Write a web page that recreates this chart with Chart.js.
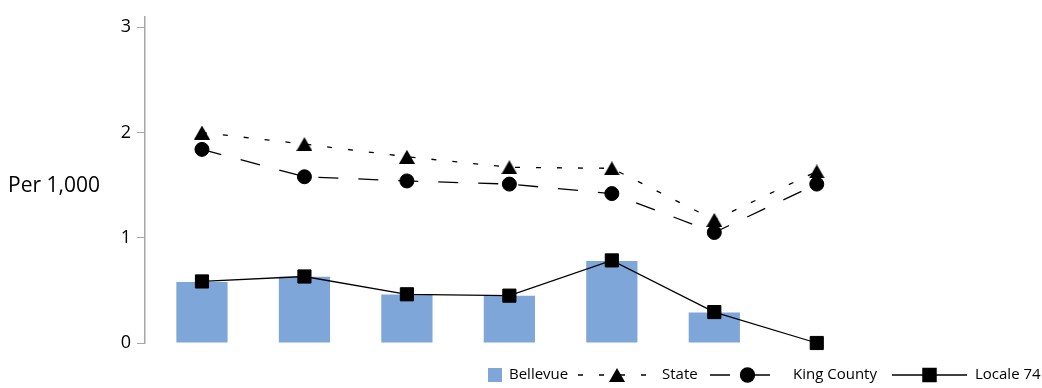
<!DOCTYPE html>
<html>
<head>
<meta charset="utf-8">
<script src="https://cdn.jsdelivr.net/npm/chart.js@4/dist/chart.umd.min.js"></script>
<style>
html, body { margin: 0; padding: 0; background: #fff; }
#wrap { width: 1042px; height: 388px; }
</style>
</head>
<body>
<div id="wrap"><canvas id="chart"></canvas></div>
<script>
// categories are not labelled in the source chart
var categories = ['1', '2', '3', '4', '5', '6', '7'];
var bellevue = [0.58, 0.63, 0.46, 0.45, 0.78, 0.29, null];
var state = [2.00, 1.89, 1.77, 1.67, 1.66, 1.17, 1.63];
var kingCounty = [1.84, 1.58, 1.54, 1.51, 1.42, 1.05, 1.51];
var locale74 = [0.585, 0.632, 0.463, 0.45, 0.785, 0.294, 0];
var yTicks = [0, 1, 2, 3];
var yTitle = 'Per 1,000';

var FONT = '"Open Sans", sans-serif';
var barColor = '#7ea6d8';

// triangle marker centred on its box (Chart.js' own triangle sits on its centroid)
function makeTriangle(w, h) {
    var c = document.createElement('canvas');
    c.width = w;
    c.height = h;
    var g = c.getContext('2d');
    g.fillStyle = '#000';
    g.beginPath();
    g.moveTo(w / 2, 0);
    g.lineTo(w, h);
    g.lineTo(0, h);
    g.closePath();
    g.fill();
    return c;
}
var triangle = makeTriangle(16, 14);

function points(values) {
    return values.map(function (v, i) {
        return { x: i, y: v };
    });
}

// legend drawn by hand so the samples show line + marker like the original
var legendItems = [
    { text: 509, box: 488 },
    { text: 662, from: 578, to: 656 },
    { text: 793, from: 710, to: 785 },
    { text: 975, from: 892, to: 967 }
];

var extras = {
    id: 'extras',
    afterDraw: function (chart) {
        var ctx = chart.ctx;
        var y = 375;
        ctx.save();
        ctx.textBaseline = 'middle';
        ctx.fillStyle = '#000';
        ctx.font = '21px ' + FONT;
        ctx.fillText(yTitle, 8, 186);

        ctx.font = '15px ' + FONT;
        chart.data.datasets.forEach(function (ds, i) {
            var it = legendItems[i];
            if (ds.type === 'bar') {
                ctx.fillStyle = ds.backgroundColor;
                ctx.fillRect(it.box, 368, 14, 14);
            } else {
                ctx.strokeStyle = '#000';
                ctx.lineWidth = ds.borderWidth;
                ctx.setLineDash(ds.borderDash || []);
                ctx.beginPath();
                ctx.moveTo(it.from, y);
                ctx.lineTo(it.to, y);
                ctx.stroke();
                ctx.setLineDash([]);
                var mid = (it.from + it.to) / 2;
                ctx.fillStyle = '#000';
                Chart.helpers.drawPoint(ctx, {
                    pointStyle: ds.pointStyle,
                    radius: ds.pointRadius,
                    rotation: 0,
                    borderWidth: ds.pointBorderWidth
                }, mid, y);
            }
            ctx.fillStyle = '#000';
            ctx.fillText(ds.label, it.text, y);
        });
        ctx.restore();
    }
};

var chart = new Chart(document.getElementById('chart'), {
    data: {
        datasets: [{
            type: 'bar',
            label: 'Bellevue',
            data: points(bellevue),
            backgroundColor: barColor,
            barPercentage: 0.5,
            categoryPercentage: 1,
            order: 10
        }, {
            type: 'line',
            label: 'State',
            data: points(state),
            borderColor: '#000',
            borderWidth: 1.3,
            borderDash: [5, 16],
            pointStyle: triangle,
            pointRadius: 8,
            pointBorderWidth: 0,
            clip: false,
            order: 1
        }, {
            type: 'line',
            label: 'King County',
            data: points(kingCounty),
            borderColor: '#000',
            borderWidth: 1.3,
            borderDash: [20, 20],
            pointStyle: 'circle',
            pointRadius: 7,
            pointBackgroundColor: '#000',
            pointBorderColor: '#000',
            pointBorderWidth: 1,
            clip: false,
            order: 1
        }, {
            type: 'line',
            label: 'Locale 74',
            data: points(locale74),
            borderColor: '#000',
            borderWidth: 1.3,
            pointStyle: 'rect',
            pointRadius: 9.3,
            pointBackgroundColor: '#000',
            pointBorderColor: '#000',
            pointBorderWidth: 1,
            clip: false,
            order: 1
        }]
    },
    options: {
        responsive: true,
        maintainAspectRatio: false,
        animation: false,
        events: [],
        layout: {
            padding: { left: 100, top: 6, bottom: 45, right: 174 }
        },
        plugins: {
            legend: { display: false },
            tooltip: { enabled: false }
        },
        scales: {
            x: {
                type: 'linear',
                display: false,
                offset: false,
                min: -0.556,
                max: categories.length - 0.5,
                // one tick per category so bar width follows category spacing
                afterBuildTicks: function (scale) {
                    scale.ticks = categories.map(function (c, i) { return { value: i }; });
                }
            },
            y: {
                min: 0,
                max: 3.1,
                afterBuildTicks: function (scale) {
                    scale.ticks = yTicks.map(function (v) { return { value: v }; });
                },
                afterFit: function (scale) {
                    scale.width = 45;
                },
                grid: {
                    drawOnChartArea: false,
                    tickLength: 8,
                    color: '#a6a6a6'
                },
                border: { color: '#a6a6a6', width: 1.5 },
                ticks: {
                    padding: 6,
                    color: '#000',
                    font: { family: FONT, size: 18 }
                }
            }
        }
    },
    plugins: [extras]
});
</script>
</body>
</html>
